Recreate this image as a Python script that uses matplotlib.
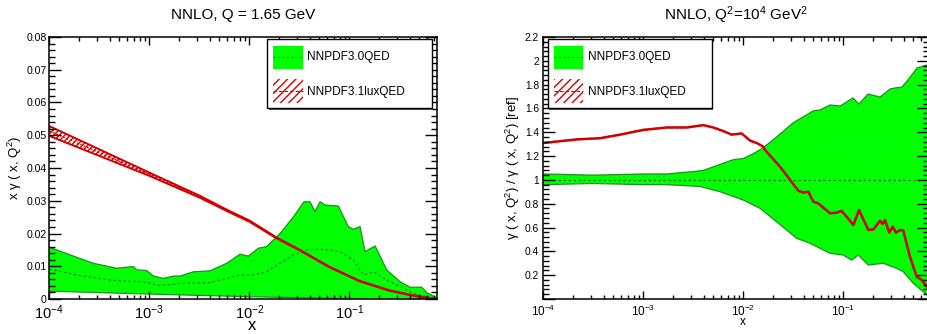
import numpy as np
import matplotlib
matplotlib.use("Agg")
import matplotlib.pyplot as plt
from matplotlib.patches import Rectangle
from matplotlib.ticker import LogLocator, MultipleLocator, FuncFormatter, NullFormatter

plt.rcParams['font.family'] = ['Liberation Sans', 'DejaVu Sans']
plt.rcParams['mathtext.fontset'] = 'custom'
plt.rcParams['mathtext.rm'] = 'Liberation Sans'
plt.rcParams['mathtext.it'] = 'Liberation Sans:italic'
plt.rcParams['mathtext.bf'] = 'Liberation Sans:bold'
plt.rcParams['hatch.linewidth'] = 1.0

# ---------------- Q = 1.65 GeV : x*gamma(x,Q^2) ----------------
qed30_up_x = [1e-4, 2.75e-4, 4.7e-4, 6.9e-4, 7.5e-4, 9.4e-4, 1.1e-3, 1.38e-3, 1.74e-3,
              2.03e-3, 2.75e-3, 4.04e-3, 5.93e-3, 8.07e-3, 9.78e-3, 1.23e-2, 1.49e-2,
              2.03e-2, 2.75e-2, 3.52e-2, 4.04e-2, 4.54e-2, 5.09e-2, 5.71e-2, 7.76e-2,
              9.77e-2, 0.1096, 0.128, 0.1435, 0.181, 0.236, 0.321, 0.404, 0.529, 0.593, 0.747]
qed30_up_y = [0.0158, 0.0109, 0.0094, 0.0099, 0.0089, 0.0087, 0.0070, 0.0063, 0.0070,
              0.0070, 0.0083, 0.0086, 0.0109, 0.0137, 0.0131, 0.0155, 0.0160,
              0.0200, 0.0250, 0.0297, 0.0297, 0.0267, 0.0297, 0.0287, 0.0284,
              0.0221, 0.0213, 0.0221, 0.0145, 0.0162, 0.0089, 0.0053, 0.0036, 0.0036, 0.0020, 0.0003]
qed30_cv_x = [1e-4, 2.12e-4, 4.7e-4, 8.7e-4, 1.27e-3, 2.17e-3, 4.04e-3, 8.07e-3, 1.06e-2,
              1.49e-2, 2.03e-2, 2.75e-2, 3.74e-2, 5.09e-2, 8.07e-2, 0.1096, 0.138, 0.174,
              0.236, 0.321, 0.437, 0.593, 0.747]
qed30_cv_y = [0.0091, 0.0070, 0.0056, 0.0053, 0.0041, 0.0048, 0.0050, 0.0073, 0.0073,
              0.0083, 0.0109, 0.0134, 0.0150, 0.0152, 0.0145, 0.0119, 0.0073, 0.0083,
              0.0058, 0.0038, 0.0017, 0.0007, 0.0]
qed30_lo_x = [1e-4, 1e-3, 1e-2, 6.9e-2, 0.2, 0.747]
qed30_lo_y = [0.0024, 0.0015, 0.0007, 0.0002, 0.0, 0.0]

lux_x = [1e-4, 3.16e-4, 1e-3, 3.16e-3, 6.3e-3, 1e-2, 1.86e-2, 3.16e-2, 6.3e-2,
         0.126, 0.251, 0.398, 0.562, 0.747]
lux_y = [0.0513, 0.0447, 0.0381, 0.0313, 0.0267, 0.0238, 0.0187, 0.0150, 0.0098,
         0.0055, 0.0026, 0.0013, 0.0005, 0.0]
lux_err = [0.0015, 0.0010, 0.0005, 0.0003, 0.0002, 0.0002, 0.00015, 0.0001, 0.0001,
           0.0001, 0.0001, 0.0001, 0.0001, 0.0]

# ---------------- Q^2 = 10^4 GeV^2 : ratio to NNPDF3.0QED ----------------
ratio_up_x = [1e-4, 3.16e-4, 1e-3, 1.71e-3, 3.16e-3, 3.98e-3, 5.85e-3, 7.94e-3, 1e-2,
              1.26e-2, 1.58e-2, 2.15e-2, 3.16e-2, 3.98e-2, 5.01e-2, 0.0585, 0.0736,
              0.0927, 0.125, 0.1435, 0.1766, 0.233, 0.293, 0.329, 0.386, 0.443, 0.546, 0.687]
ratio_up_y = [1.05, 1.04, 1.05, 1.05, 1.07, 1.08, 1.13, 1.17, 1.18,
              1.22, 1.27, 1.36, 1.48, 1.53, 1.58, 1.587, 1.629,
              1.62, 1.688, 1.637, 1.721, 1.696, 1.763, 1.772, 1.78, 1.839, 1.94, 1.965]
ratio_lo_x = [1e-4, 3.16e-4, 1e-3, 1.71e-3, 3.69e-3, 5.85e-3, 1e-2, 0.0147, 0.0215,
              0.0341, 0.0464, 0.0736, 0.1, 0.121, 0.141, 0.178, 0.251, 0.341, 0.398,
              0.501, 0.687]
ratio_lo_y = [0.96, 0.97, 0.96, 0.96, 0.945, 0.901, 0.831, 0.761, 0.649,
              0.510, 0.468, 0.384, 0.369, 0.327, 0.369, 0.285, 0.30, 0.258, 0.229,
              0.132, 0.034]
ratio_lux_x = [1e-4, 2.15e-4, 3.69e-4, 5.85e-4, 1e-3, 1.71e-3, 2.71e-3, 3.98e-3, 5.01e-3,
               6.31e-3, 7.64e-3, 9.62e-3, 1.17e-2, 1.36e-2, 1.58e-2, 0.0165, 0.0233,
               0.0355, 0.0398, 0.0447, 0.0501, 0.0562, 0.0736, 0.0858, 0.0962, 0.108,
               0.126, 0.1435, 0.178, 0.2, 0.233, 0.248, 0.261, 0.288, 0.312, 0.336,
               0.369, 0.398, 0.464, 0.542, 0.608, 0.687]
ratio_lux_y = [1.31, 1.34, 1.35, 1.38, 1.42, 1.44, 1.44, 1.46, 1.44,
               1.41, 1.38, 1.39, 1.33, 1.31, 1.28, 1.251, 1.111,
               0.909, 0.893, 0.901, 0.817, 0.803, 0.72, 0.725, 0.739, 0.691,
               0.621, 0.747, 0.579, 0.585, 0.657, 0.63, 0.663, 0.557, 0.607, 0.557,
               0.579, 0.574, 0.355, 0.187, 0.16, 0.103]
ratio_lux_err = 0.008

GREEN = '#00ff00'
GREEN_EDGE = '#1f8f1f'
GREEN_DASH = '#2a7a2a'
RED = '#d10000'
LABELS = ['NNPDF3.0QED', 'NNPDF3.1luxQED']


def common_grid(*xs):
    return np.unique(np.concatenate([np.asarray(x, float) for x in xs]))


def interp_log(xg, x, y):
    return np.interp(np.log10(xg), np.log10(x), y)


def style_axes(ax, xmax, xtick_fs, ytick_fs, ypad, xpad):
    ax.set_xscale('log')
    ax.set_xlim(1e-4, xmax)
    ax.xaxis.set_major_locator(LogLocator(base=10, numticks=10))
    ax.xaxis.set_minor_locator(LogLocator(base=10, subs=np.arange(2, 10), numticks=20))
    ax.xaxis.set_minor_formatter(NullFormatter())
    ax.tick_params(which='both', direction='in', top=True, right=True, width=1.0, color='black')
    ax.tick_params(axis='x', which='major', length=5.6, labelsize=xtick_fs, pad=xpad)
    ax.tick_params(axis='x', which='minor', length=2.8)
    ax.tick_params(axis='y', which='major', length=8.6, labelsize=ytick_fs, pad=ypad)
    ax.tick_params(axis='y', which='minor', length=4.3)
    for s in ax.spines.values():
        s.set_linewidth(1.1)


def draw_key(ax, bx0, bx1, by0, by1, kx0, kx1, tx, rows):
    # white box with a thin shadow, then one filled and one hatched key
    tr = ax.transAxes
    ax.add_patch(Rectangle((bx0 + 0.004, by0 - 0.007), bx1 - bx0, by1 - by0, transform=tr,
                           facecolor='#555555', edgecolor='none', zorder=2.1, clip_on=False))
    ax.add_patch(Rectangle((bx0, by0), bx1 - bx0, by1 - by0, transform=tr,
                           facecolor='white', edgecolor='black', linewidth=1.0, zorder=2.2))
    (g0, g1, gt), (r0, r1, rt) = rows
    ax.add_patch(Rectangle((kx0, g0), kx1 - kx0, g1 - g0, transform=tr,
                           facecolor=GREEN, edgecolor='none', zorder=2.3))
    ax.plot([kx0, kx1], [(g0 + g1) / 2] * 2, transform=tr, color=GREEN_DASH,
            linestyle=(0, (2, 2)), linewidth=0.8, zorder=2.35)
    ax.add_patch(Rectangle((kx0, r0), kx1 - kx0, r1 - r0, transform=tr,
                           facecolor='none', edgecolor=RED, hatch='////', linewidth=0, zorder=2.3))
    ax.plot([kx0, kx1], [(r0 + r1) / 2] * 2, transform=tr, color=RED,
            linestyle=(0, (3, 2)), linewidth=0.8, zorder=2.35)
    ax.text(tx, gt, LABELS[0], transform=tr, fontsize=8.5, va='center', ha='left', zorder=2.4)
    ax.text(tx, rt, LABELS[1], transform=tr, fontsize=8.5, va='center', ha='left', zorder=2.4)


fig = plt.figure(figsize=(9.27, 3.34), dpi=100)
W, H = 927.0, 334.0

# ---------------- left panel ----------------
axl = fig.add_axes([49.3 / W, 1 - 299 / H, 387.4 / W, 262 / H])
xg = common_grid(qed30_up_x, qed30_lo_x)
axl.fill_between(xg, interp_log(xg, qed30_lo_x, qed30_lo_y), interp_log(xg, qed30_up_x, qed30_up_y),
                 facecolor=GREEN, edgecolor='none', zorder=1)
axl.plot(qed30_up_x, qed30_up_y, color=GREEN_EDGE, linewidth=0.9, zorder=1.1)
axl.plot(qed30_lo_x, qed30_lo_y, color=GREEN_EDGE, linewidth=0.9, zorder=1.1)
axl.plot(qed30_cv_x, qed30_cv_y, color=GREEN_DASH, linestyle=(0, (2, 2)), linewidth=0.9, zorder=1.2)

lux_lo = np.array(lux_y) - np.array(lux_err)
lux_hi = np.array(lux_y) + np.array(lux_err)
axl.fill_between(lux_x, lux_lo, lux_hi, facecolor='none', edgecolor=RED, hatch='//////',
                 linewidth=0, zorder=1.3)
axl.plot(lux_x, lux_hi, color=RED, linewidth=1.4, zorder=1.4)
axl.plot(lux_x, lux_lo, color=RED, linewidth=1.4, zorder=1.4)
axl.plot(lux_x, lux_y, color=RED, linestyle=(0, (1.5, 1.5)), linewidth=0.9, zorder=1.4)

axl.set_ylim(0, 0.08)
style_axes(axl, 0.747, 10.5, 7.6, 2.0, 3.0)
axl.yaxis.set_major_locator(MultipleLocator(0.01))
axl.yaxis.set_minor_locator(MultipleLocator(0.002))
axl.yaxis.set_major_formatter(FuncFormatter(lambda v, p: f'{round(v, 3):g}'))

axl.text(0.5, 1.084, 'NNLO, Q = 1.65 GeV', transform=axl.transAxes, ha='center', va='center',
         fontsize=11)
axl.text(0.523, -0.102, 'x', transform=axl.transAxes, ha='center', va='center', fontsize=12)
axl.text(-0.0885, 0.5, 'x γ ( x, Q$^{2}$)', transform=axl.transAxes, rotation=90,
         ha='center', va='center', fontsize=9.5)
draw_key(axl, 0.562, 0.987, 0.729, 0.992, 0.577, 0.655, 0.666,
         [(0.878, 0.966, 0.924), (0.748, 0.840, 0.790)])

# ---------------- right panel ----------------
axr = fig.add_axes([543.3 / W, 1 - 299 / H, 385.7 / W, 262 / H])
xg = common_grid(ratio_up_x, ratio_lo_x)
axr.fill_between(xg, interp_log(xg, ratio_lo_x, ratio_lo_y), interp_log(xg, ratio_up_x, ratio_up_y),
                 facecolor=GREEN, edgecolor='none', zorder=1)
axr.plot(ratio_up_x, ratio_up_y, color=GREEN_EDGE, linewidth=0.9, zorder=1.1)
axr.plot(ratio_lo_x, ratio_lo_y, color=GREEN_EDGE, linewidth=0.9, zorder=1.1)
axr.axhline(1.0, color=GREEN_DASH, linestyle=(0, (2, 2)), linewidth=0.9, zorder=1.2)

rl = np.array(ratio_lux_y)
axr.fill_between(ratio_lux_x, rl - ratio_lux_err, rl + ratio_lux_err, facecolor='none',
                 edgecolor=RED, hatch='//////', linewidth=0, zorder=1.3)
axr.plot(ratio_lux_x, rl, color=RED, linewidth=1.8, zorder=1.4)

axr.set_ylim(0, 2.2)
style_axes(axr, 10 ** ((929 - 543.3) / 100 - 4), 8.5, 7.4, 3.0, 3.5)
axr.yaxis.set_major_locator(MultipleLocator(0.2))
axr.yaxis.set_minor_locator(MultipleLocator(0.04))
axr.yaxis.set_major_formatter(FuncFormatter(lambda v, p: '' if abs(v) < 1e-9 else f'{round(v, 1):g}'))

axr.text(0.5, 1.084, 'NNLO, Q$^{2}$=10$^{4}$ GeV$^{2}$', transform=axr.transAxes,
         ha='center', va='center', fontsize=11)
axr.text(0.516, -0.088, 'x', transform=axr.transAxes, ha='center', va='center', fontsize=8.5)
axr.text(-0.0786, 0.5, 'γ ( x, Q$^{2}$) / γ ( x, Q$^{2}$) [ref]', transform=axr.transAxes,
         rotation=90, ha='center', va='center', fontsize=9.5)
draw_key(axr, 0.012, 0.437, 0.729, 0.992, 0.028, 0.102, 0.117,
         [(0.878, 0.966, 0.924), (0.748, 0.840, 0.790)])

fig.savefig('out.png', dpi=100)
